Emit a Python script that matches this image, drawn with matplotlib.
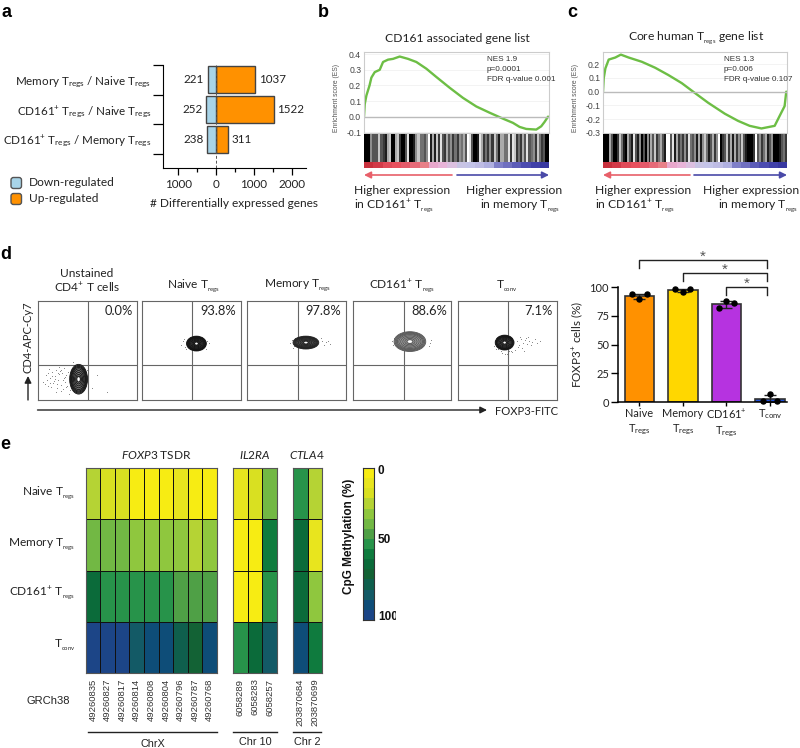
import numpy as np
import matplotlib
matplotlib.use('Agg')
import matplotlib.pyplot as plt
from matplotlib.colors import ListedColormap, BoundaryNorm
from matplotlib.patches import Ellipse, FancyBboxPatch
from matplotlib.transforms import Bbox, TransformedBbox

plt.rcParams['font.family'] = ['Lato', 'DejaVu Sans']
plt.rcParams['mathtext.default'] = 'regular'
plt.rcParams['mathtext.fontset'] = 'custom'
plt.rcParams['mathtext.rm'] = 'Lato'
plt.rcParams['mathtext.it'] = 'Lato:italic'
plt.rcParams['mathtext.bf'] = 'Lato:bold'

W, H = 800, 748
TREG = r'T$_{regs}$'
TREG_S = r'T$_{{}_{regs}}$'
TCONV = r'T$_{conv}$'
TCONV_S = r'T$_{{}_{conv}}$'
CD161 = r'CD161$^{+}$'

# panel a
de_labels = ['Memory ' + TREG + ' / Naive ' + TREG,
             CD161 + ' ' + TREG + ' / Naive ' + TREG,
             CD161 + ' ' + TREG + ' / Memory ' + TREG]
de_down = [221, 252, 238]
de_up = [1037, 1522, 311]

# panels b and c, running enrichment score
b_rank = [0, .004, .013, .03, .04, .058, .085, .103, .13, .157, .193, .238, .283, .337,
          .391, .463, .535, .607, .679, .751, .805, .841, .877, .931, .958, .976, .995]
b_es = [0, .08, .135, .2, .25, .285, .30, .35, .365, .37, .385, .37, .35, .307,
        .254, .185, .12, .065, .025, -.013, -.04, -.066, -.079, -.083, -.062, -.034, 0]
c_rank = [0, .004, .013, .031, .067, .097, .139, .211, .283, .355, .428, .5, .572,
          .662, .734, .797, .861, .933, .96, .987, .996]
c_es = [0, .098, .169, .233, .248, .269, .248, .217, .174, .121, .062, -.01, -.081,
        -.16, -.212, -.248, -.267, -.248, -.176, -.105, 0]

# hit density stripes, 0 black to 9 white
b_hits = [0, 0, 0, 5, 3, 3, 3, 7, 3, 2, 1, 6, 7, 0, 0, 6, 7, 2, 0, 0, 3, 8, 0, 0, 1, 5, 7,
          4, 4, 3, 5, 9, 1, 6, 1, 7, 2, 8, 3, 2, 6, 3, 5, 2,
          4, 2, 5, 4, 6, 3, 9, 8, 3, 0, 0, 1, 8, 6, 2, 4, 2, 5, 2, 7, 4, 1, 6, 6, 4, 4, 8, 2,
          8, 7, 2, 4, 2, 6, 3, 8, 3, 4, 5, 2, 7, 4, 2, 3, 0, 0]
c_hits = [0, 0, 0, 6, 3, 0, 0, 2, 7, 4, 1, 0, 6, 3, 1, 8, 3, 1, 5, 0, 3, 0, 5, 1, 6, 3, 7,
          2, 4, 6, 3, 1, 9, 9, 3, 8, 1, 6, 2, 4, 2, 5, 2,
          8, 4, 3, 5, 1, 6, 1, 5, 7, 4, 1, 3, 6, 2, 5, 9, 0, 2, 3, 7, 2, 6, 1, 6, 2, 5,
          3, 7, 3, 1, 0, 0, 0, 2, 9, 3, 5, 2, 4, 6, 1, 3, 5, 0, 0, 0, 1, 3, 4, 2]
rank_colors = ['#C8303C', '#D23A48', '#E04A58', '#E8505E', '#E45A6A', '#E66A78', '#E88088',
               '#E8A8CC', '#E8B4D8', '#DCC0E0', '#C8C4E4', '#C4C4E8', '#BEBCE4', '#B0B0E0',
               '#8080C8', '#7070C0', '#5C5CB8', '#4C4CB0', '#4040A8', '#3838A0']

# panel d, flow plots
flow_titles = ['Unstained\nCD4$^{+}$ T cells', 'Naive ' + TREG_S, 'Memory ' + TREG_S,
               CD161 + ' ' + TREG_S, TCONV_S]
flow_pct = ['0.0%', '93.8%', '97.8%', '88.6%', '7.1%']
flow_vline = [51, 51.5, 52, 51.6, 51]
flow_hline = 35
flow_cx = [41.5, 55.5, 60, 58, 47.6]
flow_cy = [21, 57, 58, 59, 58]
flow_w = [18, 20, 26, 32, 19]
flow_h = [30, 15, 13, 20, 15]
flow_ring = ['#111111', '#111111', '#222222', '#555555', '#111111']
flow_fill = ['#777777', '#444444', '#555555', '#999999', '#666666']
flow_dots_x = [
    [6, 9, 11, 13, 15, 16, 18, 19, 20, 21, 22, 24, 25, 26, 27, 28, 29, 12, 17, 23, 14, 10, 30, 31, 19, 24,
     16, 27, 21, 33, 33, 55, 60, 70, 32, 36, 50, 8, 13, 18, 22, 26, 29, 11, 15, 20, 24, 28],
    [40, 42, 44, 46, 64, 66, 68, 43, 45, 65],
    [44, 46, 48, 76, 78, 80, 84, 47, 49, 75, 82],
    [40, 41, 78, 79, 42, 77],
    [37, 38, 40, 41, 42, 60, 62, 64, 66, 68, 70, 72, 75, 78, 80, 83, 61, 65, 69, 74, 45, 48, 52, 55, 39, 58,
     63, 71, 67, 44, 50, 54],
]
flow_dots_y = [
    [18, 25, 14, 22, 28, 17, 24, 30, 12, 20, 33, 15, 27, 11, 22, 18, 25, 31, 19, 29, 13, 20, 14, 28, 8, 9,
     35, 32, 27, 21, 10, 12, 25, 8, 6, 38, 30, 16, 17, 21, 26, 20, 13, 27, 24, 16, 30, 23],
    [56, 60, 54, 58, 55, 60, 58, 62, 52, 52],
    [58, 61, 55, 60, 56, 59, 57, 53, 63, 63, 60],
    [60, 56, 58, 61, 63, 55],
    [55, 60, 63, 52, 58, 60, 56, 62, 58, 61, 57, 60, 59, 62, 58, 60, 54, 53, 63, 56, 47, 46, 49, 48, 52, 51,
     64, 64, 50, 49, 46, 50],
]

# panel d, bar chart
foxp3_names = ['Naive\n' + TREG, 'Memory\n' + TREG, CD161 + '\n' + TREG, TCONV]
foxp3_mean = [92, 97, 85, 3]
foxp3_err = [2, 1, 3, 3]
foxp3_colors = ['#FF9100', '#FFD700', '#B633E0', '#1F4FD8']
foxp3_pts = [[94, 90, 94], [98, 96, 98], [82, 88, 86], [1, 7, 1]]
bracket_from = [0, 1, 2]
bracket_top = [123.5, 112, 100]

# panel e
row_names = ['Naive ' + TREG_S, 'Memory ' + TREG_S, CD161 + ' ' + TREG_S, TCONV_S]
foxp3_pos = ['49260835', '49260827', '49260817', '49260814', '49260808', '49260804',
             '49260796', '49260787', '49260768']
il2ra_pos = ['6058289', '6058283', '6058257']
ctla4_pos = ['203870684', '203870699']
foxp3_meth = [[23, 16, 16, 3, 3, 3, 10, 3, 3],
              [36, 36, 36, 30, 30, 30, 30, 23, 30],
              [63, 50, 50, 50, 50, 50, 43, 43, 43],
              [96, 96, 96, 83, 90, 90, 76, 70, 90]]
il2ra_meth = [[13, 16, 36], [3, 3, 56], [3, 3, 50], [50, 63, 83]]
ctla4_meth = [[50, 23], [63, 10], [63, 30], [90, 56]]
meth_colors = ['#F7EC13', '#E8E51E', '#D9E021', '#B5D334', '#8FC73E', '#72B844', '#4FA046',
               '#27934A', '#0F7B3E', '#0B6B3A', '#136235', '#0F5F4D', '#135A66', '#0E4D78', '#1C4587']


def px_axes(x0, y0, x1, y1, **kw):
    return fig.add_axes([x0 / W, 1 - y1 / H, (x1 - x0) / W, (y1 - y0) / H], **kw)


fig = plt.figure(figsize=(W / 100, H / 100), dpi=100)

# overlay in pixels for loose text and arrows
ov = fig.add_axes([0, 0, 1, 1], zorder=10)
ov.set_xlim(0, W)
ov.set_ylim(H, 0)
ov.axis('off')

for s, x, y in [('a', 2, 12), ('b', 318, 12), ('c', 567, 12), ('d', 0, 254), ('e', 0, 444)]:
    ov.text(x, y, s, fontsize=13, fontweight='bold', family='Liberation Sans', va='center')


def ptext(x, y, s, size=8.6, ha='center', **kw):
    ov.text(x, y, s, fontsize=size, ha=ha, va='center', color=kw.pop('color', '#222222'), **kw)


# a
ax = px_axes(163, 65, 306, 168)
y = np.arange(3)
ax.barh(y, de_up, height=0.9, color='#FF9100', edgecolor='#444444', lw=1)
ax.barh(y, [-d for d in de_down], height=0.9, color='#A8D4E8', edgecolor='#444444', lw=1)
ax.axvline(0, color='#555555', lw=0.7, ls=(0, (3, 2)), zorder=5)
ax.set_xlim(-1400, 2380)
ax.set_ylim(2.97, -0.5)
ax.set_yticks([-0.5, 0.5, 1.5, 2.5])
ax.set_yticklabels([])
ax.set_yticks(y, minor=True)
ax.set_yticklabels(de_labels, minor=True, fontsize=8.4, color='#222222')
ax.tick_params(axis='y', which='minor', length=0, pad=8.5)
ax.tick_params(axis='y', which='major', length=7, width=0.9)
ax.set_xticks([-1000, 0, 1000, 2000])
ax.set_xticklabels(['1000', '0', '1000', '2000'], fontsize=8.4, color='#222222')
ax.set_xticks([-500, 500, 1500], minor=True)
ax.tick_params(axis='x', which='major', length=5, width=0.9, pad=3)
ax.tick_params(axis='x', which='minor', length=3, width=0.9)
ax.spines[['top', 'right']].set_visible(False)
ax.patch.set_alpha(0)
for i in y:
    ax.text(-de_down[i] - 90, i, str(de_down[i]), ha='right', va='center', fontsize=8.4, color='#222222')
    ax.text(de_up[i] + 90, i, str(de_up[i]), ha='left', va='center', fontsize=8.4, color='#222222')
ptext(234, 203, '# Differentially expressed genes', size=8.6)
for yy, col, lab in [(183, '#A8D4E8', 'Down-regulated'), (199, '#FF9100', 'Up-regulated')]:
    ov.add_patch(FancyBboxPatch((11, yy - 5.5), 10.5, 11, boxstyle='round,pad=0,rounding_size=2.5',
                                fc=col, ec='#555555', lw=1))
    ptext(29, yy - 0.5, lab, ha='left')


# b and c
def gsea(x0, x1, ymax, ymin, yticks, rank, es, hits, title, note, note_x, label_x):
    a = px_axes(x0, 52, x1, 133)
    a.plot(rank, es, color='#6DBE45', lw=1.7, solid_capstyle='round')
    a.axhline(0, color='#BBBBBB', lw=1)
    a.set_xlim(0, 1)
    a.set_ylim(ymin, ymax)
    a.set_yticks(yticks)
    a.set_yticklabels(['%.1f' % t for t in yticks], fontsize=6.2, family='Liberation Sans', color='#444444')
    a.set_xticks([])
    a.tick_params(axis='y', length=0, pad=2)
    a.grid(axis='y', color='#EEEEEE', lw=0.5)
    for s in a.spines.values():
        s.set_color('#CCCCCC')
    a.set_ylabel('Enrichment score (ES)', fontsize=4.9, family='Liberation Sans', color='#555555', labelpad=3)
    a.yaxis.set_label_coords(-0.13, 0.43)
    for i, n in enumerate(note):
        ov.text(note_x, 59 + 10 * i, n, fontsize=5.9, family='Liberation Sans', va='center', color='#333333')
    h = px_axes(x0, 134, x1, 162)
    h.pcolormesh(np.linspace(0, 1, len(hits) + 1), [0, 1], np.array([hits]) / 9, cmap='gray', vmin=0, vmax=1)
    h.axis('off')
    st = px_axes(x0, 162, x1, 168)
    st.pcolormesh(np.linspace(0, 1, len(rank_colors) + 1), [0, 1], np.arange(len(rank_colors))[None, :],
                  cmap=ListedColormap(rank_colors))
    st.axis('off')
    ptext(label_x, 38, title, size=8.7)


gsea(364, 549, 0.414, -0.105, [-.1, 0, .1, .2, .3, .4], b_rank, b_es, b_hits, 'CD161 associated gene list',
     ['NES 1.9', 'p=0.0001', 'FDR q-value 0.001'], 487, 457)
gsea(603, 787, 0.288, -0.30, [-.3, -.2, -.1, 0, .1, .2], c_rank, c_es, c_hits, 'Core human ' + TREG_S + ' gene list',
     ['NES 1.3', 'p=0.006', 'FDR q-value 0.107'], 724, 696)

for x_left, x_red, x_blue, x_right, t_l, t_r, t_r2 in [
        (364, 452, 457, 549, 354, 466, 560), (603, 690, 694, 787, 595, 703, 798)]:
    ov.annotate('', (x_left, 175), (x_red, 175),
                arrowprops=dict(arrowstyle='-|>', color='#E8606A', lw=1.2, shrinkA=0, shrinkB=0))
    ov.annotate('', (x_right, 175), (x_blue, 175),
                arrowprops=dict(arrowstyle='-|>', color='#4A4AA8', lw=1.2, shrinkA=0, shrinkB=0))
    ptext(t_l, 190, 'Higher expression', size=8.7, ha='left')
    ptext(t_l, 206, 'in ' + CD161 + ' ' + TREG_S, size=8.7, ha='left')
    ptext(t_r, 190, 'Higher expression', size=8.7, ha='left')
    ptext(t_r2, 206, 'in memory ' + TREG_S, size=8.7, ha='right')

# d flow plots
flow_x0 = [37.5, 141.5, 246.5, 352.5, 457.5]
ring_fracs = [1, .93, .86, .79, .7, .58, .45, .32, .2]
for i in range(5):
    f = px_axes(flow_x0[i], 301, flow_x0[i] + 99, 400)
    f.set_xlim(0, 100)
    f.set_ylim(0, 100)
    f.set_xticks([])
    f.set_yticks([])
    for s in f.spines.values():
        s.set_color('#666666')
        s.set_linewidth(0.8)
    f.axvline(flow_vline[i], color='#666666', lw=0.8)
    f.axhline(flow_hline, color='#666666', lw=0.8)
    f.scatter(flow_dots_x[i], flow_dots_y[i], s=0.4, color='#777777', lw=0)
    f.add_patch(Ellipse((flow_cx[i], flow_cy[i]), flow_w[i], flow_h[i], fc=flow_fill[i], ec='none', zorder=2))
    for fr in ring_fracs:
        f.add_patch(Ellipse((flow_cx[i], flow_cy[i]), flow_w[i] * fr, flow_h[i] * fr,
                            fc='none', ec=flow_ring[i], lw=0.6, zorder=3))
    f.add_patch(Ellipse((flow_cx[i], flow_cy[i]), flow_w[i] * .13, flow_h[i] * .13, fc='white', ec='none', zorder=4))
    f.text(96, 90, flow_pct[i], ha='right', va='center', fontsize=9.3, color='#222222')
flow_title_y = [281, 286, 286, 286, 286]
flow_title_x = [87, 193, 297.5, 402, 507]
for i in range(5):
    ptext(flow_title_x[i], flow_title_y[i], flow_titles[i], size=8.6, linespacing=1.25)
ov.text(28, 337, 'CD4-APC-Cy7', rotation=90, fontsize=8, ha='center', va='center', color='#222222')
ov.annotate('', (28, 376), (28, 400), arrowprops=dict(arrowstyle='-|>', color='#222222', lw=1, shrinkA=0, shrinkB=0))
ov.annotate('', (487, 410), (37.5, 410), arrowprops=dict(arrowstyle='-|>', color='#222222', lw=1, shrinkA=0, shrinkB=0))
ptext(495, 411, 'FOXP3-FITC', size=8.1, ha='left')

# d bars
b = px_axes(618, 287, 787, 402)
xb = np.arange(4)
b.bar(xb, foxp3_mean, width=0.68, color=foxp3_colors, edgecolor='#333333', lw=1.2)
b.errorbar(xb, foxp3_mean, yerr=foxp3_err, fmt='none', ecolor='#222222', elinewidth=1, capsize=4, capthick=1)
for i, pts in enumerate(foxp3_pts):
    b.scatter([i - 0.17, i, i + 0.17], pts, s=13, color='black', zorder=5, clip_on=False)
b.set_xlim(-0.49, 3.39)
b.set_ylim(0, 100)
b.set_yticks([0, 25, 50, 75, 100])
b.set_xticks(xb)
b.set_xticklabels(foxp3_names, fontsize=7.9, color='#222222', linespacing=1.45)
b.tick_params(axis='y', length=5, width=1, labelsize=8, labelcolor='#222222', pad=1.5)
b.tick_params(axis='x', length=3, width=1, pad=1)
b.spines[['top', 'right']].set_visible(False)
b.spines['left'].set_linewidth(1.1)
b.spines['bottom'].set_linewidth(1.1)
b.set_ylabel('FOXP3$^{+}$ cells (%)', fontsize=8.4, color='#222222', labelpad=3)
b.patch.set_alpha(0)
for st_i, top in zip(bracket_from, bracket_top):
    b.plot([st_i, st_i, 2.93, 2.93], [top - 7, top, top, top - 7], color='#222222', lw=1, clip_on=False)
    b.text((st_i + 2.93) / 2, top + 3, '*', ha='center', va='center', fontsize=11, color='#555555',
           family='Liberation Sans')

# e heatmap
cmap = ListedColormap(meth_colors)
norm = BoundaryNorm(np.linspace(0, 100, len(meth_colors) + 1), cmap.N)


def heat(x0, x1, vals, positions):
    hm = px_axes(x0, 468, x1, 673)
    hm.pcolormesh(vals, cmap=cmap, norm=norm, edgecolors='#111111', linewidth=0.6)
    hm.set_ylim(4, 0)
    hm.set_yticks([])
    hm.set_xticks(np.arange(len(positions)) + 0.5)
    hm.set_xticklabels(positions, rotation=90, fontsize=6.8, family='Liberation Sans', color='#333333')
    hm.tick_params(axis='x', length=0, pad=4)
    for s in hm.spines.values():
        s.set_color('#555555')
    return hm


heat(85.7, 217, foxp3_meth, foxp3_pos)
heat(233, 277, il2ra_meth, il2ra_pos)
heat(293, 322, ctla4_meth, ctla4_pos)
for yc, name in zip([493, 545, 593, 645], row_names):
    ptext(75, yc, name, size=8.6, ha='right')
ptext(156, 455, r'$\mathit{FOXP3}$ TSDR', size=8.6)
ptext(255, 455, r'$\mathit{IL2RA}$', size=8.6)
ptext(307, 455, r'$\mathit{CTLA4}$', size=8.6)
ptext(48, 701, 'GRCh38', size=8, family='Liberation Sans')
for x0, x1, lab, ly in [(88, 217, 'ChrX', 744), (233, 277, 'Chr 10', 742), (293, 321, 'Chr 2', 742)]:
    ov.plot([x0, x1], [732, 732], color='#222222', lw=1)
    ptext((x0 + x1) / 2, ly, lab, size=7.8, family='Liberation Sans')

cb = px_axes(363, 468, 374, 620)
cb.pcolormesh([0, 1], np.linspace(0, 100, len(meth_colors) + 1), np.arange(len(meth_colors))[:, None],
              cmap=cmap)
cb.set_ylim(100, 0)
cb.set_xticks([])
cb.set_yticks([])
for s in cb.spines.values():
    s.set_color('#333333')
for txt, yy in [('0', 471), ('50', 540), ('100', 617)]:
    t = ov.text(378, yy, txt, fontsize=8.5, fontweight='bold', family='Liberation Sans', va='center', color='#111111')
    t.set_clip_box(TransformedBbox(Bbox([[370, 460], [395.5, 630]]), ov.transData))
    t.set_clip_on(True)
ov.text(349, 536, 'CpG Methylation (%)', rotation=90, fontsize=8.5, fontweight='bold', family='Liberation Sans',
        ha='center', va='center', color='#111111')

fig.savefig('out.png', dpi=100)
